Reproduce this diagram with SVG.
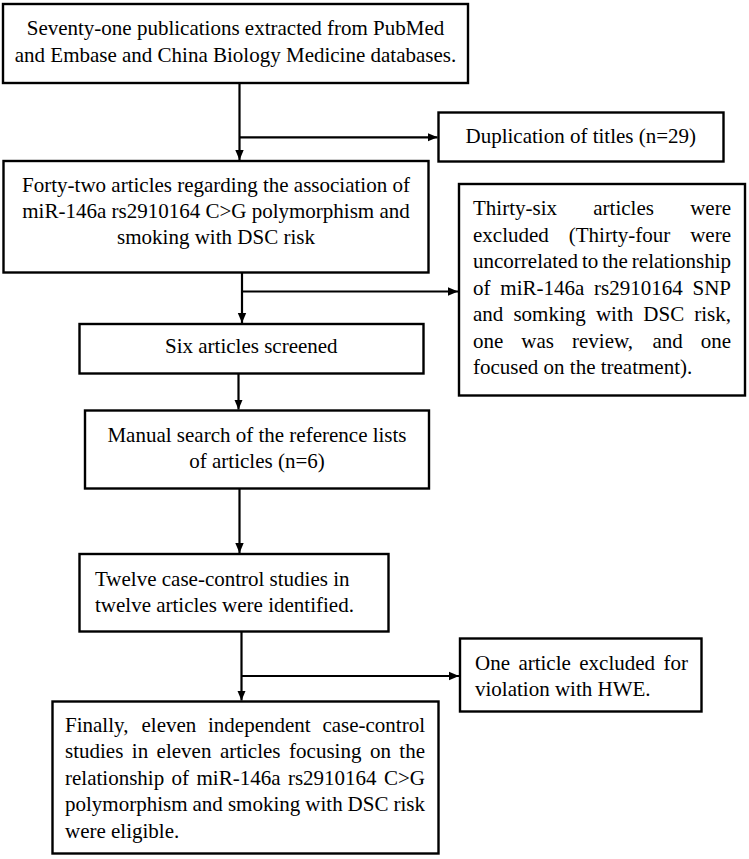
<svg xmlns="http://www.w3.org/2000/svg" width="749" height="859" viewBox="0 0 749 859">
<defs>
<style>
.box{fill:#fff;stroke:#000;stroke-width:2.4}
.t{font-family:"Liberation Serif","Times New Roman",serif;font-size:21px;fill:#000}
.c{text-anchor:middle}
.e{text-anchor:end}
.ln{stroke:#000;stroke-width:2.2;fill:none}
</style>
<marker id="ah" markerUnits="userSpaceOnUse" markerWidth="10" markerHeight="10" viewBox="0 0 10 10" refX="10" refY="5" orient="auto">
<path d="M0,0.8 L10,5 L0,9.2 Z" fill="#000"/>
</marker>
</defs>
<rect width="749" height="859" fill="#fff"/>

<g id="connectors">
<line class="ln" x1="239.5" y1="83" x2="239.5" y2="160" marker-end="url(#ah)"/>
<line class="ln" x1="239.5" y1="137.3" x2="437.5" y2="137.3" marker-end="url(#ah)"/>
<line class="ln" x1="242" y1="273" x2="242" y2="323" marker-end="url(#ah)"/>
<line class="ln" x1="242" y1="291.5" x2="458" y2="291.5" marker-end="url(#ah)"/>
<line class="ln" x1="238.5" y1="373.5" x2="238.5" y2="409.5" marker-end="url(#ah)"/>
<line class="ln" x1="239.5" y1="488.5" x2="239.5" y2="553" marker-end="url(#ah)"/>
<line class="ln" x1="241.5" y1="631.5" x2="241.5" y2="700.5" marker-end="url(#ah)"/>
<line class="ln" x1="241.5" y1="676" x2="459" y2="676" marker-end="url(#ah)"/>
</g>

<g id="n1">
<rect class="box" x="3" y="4" width="465" height="79"/>
<text class="t c" x="235.5" y="35">Seventy-one publications extracted from PubMed</text>
<text class="t c" x="235.5" y="62">and Embase and China Biology Medicine databases.</text>
</g>

<g id="n2">
<rect class="box" x="438.5" y="112.5" width="285" height="49"/>
<text class="t c" x="580.8" y="142.7">Duplication of titles (n=29)</text>
</g>

<g id="n3">
<rect class="box" x="3.5" y="161" width="425" height="111.5"/>
<text class="t c" x="216" y="192.3">Forty-two articles regarding the association of</text>
<text class="t c" x="216" y="218.3">miR-146a rs2910164 C&gt;G polymorphism and</text>
<text class="t c" x="216" y="244.3">smoking with DSC risk</text>
</g>

<g id="n4">
<rect class="box" x="459" y="184" width="286" height="211.5"/>
<text class="t" y="215"><tspan x="473">Thirty-six</tspan><tspan x="593.3">articles</tspan><tspan x="731" class="e">were</tspan></text>
<text class="t" y="241.5"><tspan x="473">excluded</tspan><tspan x="568.8">(Thirty-four</tspan><tspan x="731" class="e">were</tspan></text>
<text class="t" y="268"><tspan x="473">uncorrelated</tspan><tspan x="581.9">to</tspan><tspan x="602.2">the</tspan><tspan x="731" class="e">relationship</tspan></text>
<text class="t" y="294.5"><tspan x="473">of</tspan><tspan x="500.3">miR-146a</tspan><tspan x="594">rs2910164</tspan><tspan x="731" class="e">SNP</tspan></text>
<text class="t" y="321"><tspan x="473">and</tspan><tspan x="513.4">somking</tspan><tspan x="595.9">with</tspan><tspan x="643.3">DSC</tspan><tspan x="731" class="e">risk,</tspan></text>
<text class="t" y="347.5"><tspan x="473">one</tspan><tspan x="521.3">was</tspan><tspan x="572">review,</tspan><tspan x="652.4">and</tspan><tspan x="731" class="e">one</tspan></text>
<text class="t" x="473" y="374">focused on the treatment).</text>
</g>

<g id="n5">
<rect class="box" x="79.5" y="324" width="344" height="49.5"/>
<text class="t c" x="251.3" y="353.3">Six articles screened</text>
</g>

<g id="n6">
<rect class="box" x="85" y="410.5" width="344" height="78"/>
<text class="t c" x="257" y="441.7">Manual search of the reference lists</text>
<text class="t c" x="257" y="468.3">of articles (n=6)</text>
</g>

<g id="n7">
<rect class="box" x="79.5" y="554" width="309" height="77.5"/>
<text class="t" x="95" y="585.7">Twelve case-control studies in</text>
<text class="t" x="95" y="611.7">twelve articles were identified.</text>
</g>

<g id="n8">
<rect class="box" x="460" y="638.5" width="241.5" height="73"/>
<text class="t" y="670"><tspan x="475">One</tspan><tspan x="518.4">article</tspan><tspan x="579.3">excluded</tspan><tspan x="688" class="e">for</tspan></text>
<text class="t" x="475" y="696">violation with HWE.</text>
</g>

<g id="n9">
<rect class="box" x="52.5" y="701.5" width="386" height="152"/>
<text class="t" y="731.5"><tspan x="65">Finally,</tspan><tspan x="141.5">eleven</tspan><tspan x="208">independent</tspan><tspan x="425" class="e">case-control</tspan></text>
<text class="t" y="758"><tspan x="65">studies</tspan><tspan x="131.8">in</tspan><tspan x="156.6">eleven</tspan><tspan x="219.9">articles</tspan><tspan x="289.1">focusing</tspan><tspan x="369.9">on</tspan><tspan x="425" class="e">the</tspan></text>
<text class="t" y="784.5"><tspan x="65">relationship</tspan><tspan x="171.6">of</tspan><tspan x="196.5">miR-146a</tspan><tspan x="287.9">rs2910164</tspan><tspan x="425" class="e">C&gt;G</tspan></text>
<text class="t" y="811"><tspan x="65">polymorphism</tspan><tspan x="192.5">and</tspan><tspan x="227.9">smoking</tspan><tspan x="305.3">with</tspan><tspan x="347.6">DSC</tspan><tspan x="425" class="e">risk</tspan></text>
<text class="t" x="65" y="837.5">were eligible.</text>
</g>
</svg>
